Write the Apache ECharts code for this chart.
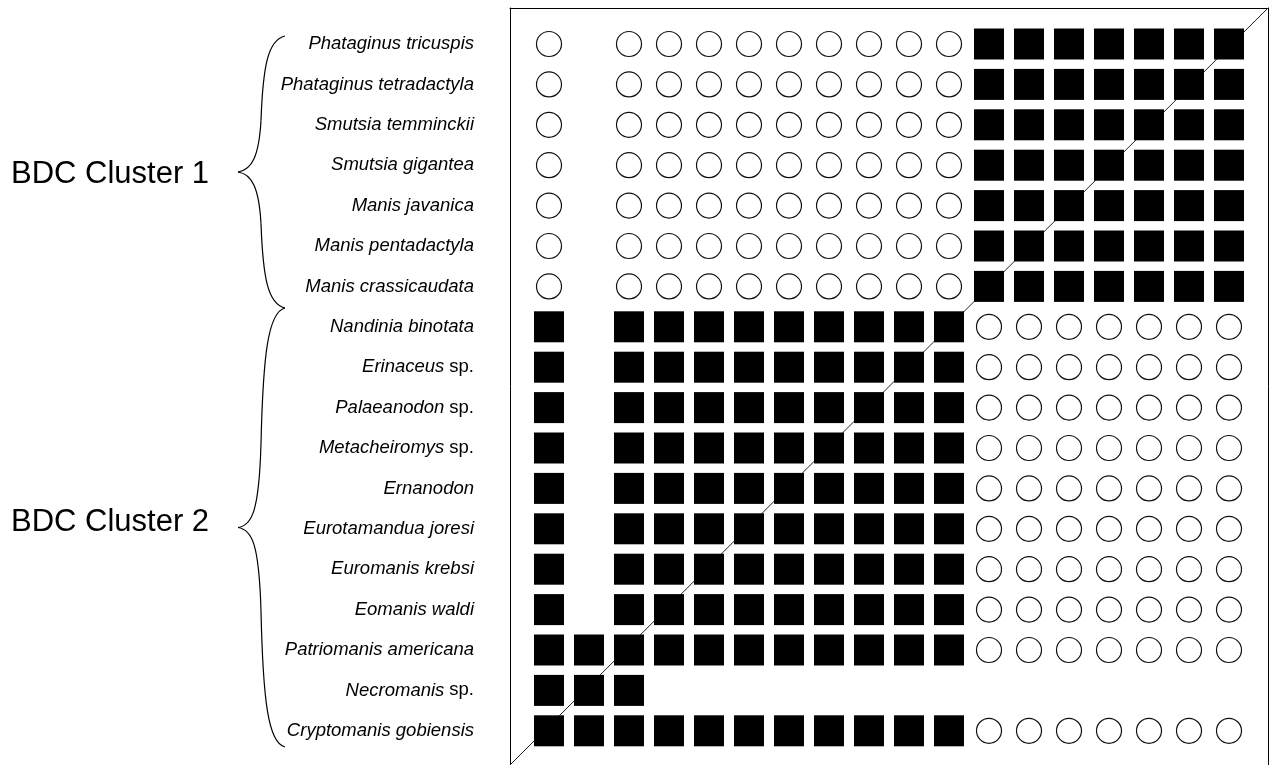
<!DOCTYPE html>
<html>
<head>
<meta charset="utf-8">
<script src="https://cdn.jsdelivr.net/npm/echarts@6/dist/echarts.min.js"></script>
<style>
  html, body { margin: 0; padding: 0; background: #fff; }
  #main { width: 1277px; height: 765px; }
</style>
</head>
<body>
<div id="main"></div>
<script>
// taxa, top to bottom
const species = [
  'Phataginus tricuspis', 'Phataginus tetradactyla', 'Smutsia temminckii',
  'Smutsia gigantea', 'Manis javanica', 'Manis pentadactyla',
  'Manis crassicaudata', 'Nandinia binotata', 'Erinaceus sp.',
  'Palaeanodon sp.', 'Metacheiromys sp.', 'Ernanodon',
  'Eurotamandua joresi', 'Euromanis krebsi', 'Eomanis waldi',
  'Patriomanis americana', 'Necromanis sp.', 'Cryptomanis gobiensis'
]
// 18 unlabeled columns
const columns = ['1', '2', '3', '4', '5', '6', '7', '8', '9', '10', '11', '12', '13', '14', '15', '16', '17', '18']

// 0 = blank, 1 = open circle, 2 = filled square
const cluster1Row = [1, 0, 1, 1, 1, 1, 1, 1, 1, 1, 1, 2, 2, 2, 2, 2, 2, 2]
const cluster2Row = [2, 0, 2, 2, 2, 2, 2, 2, 2, 2, 2, 1, 1, 1, 1, 1, 1, 1]
const fullRow     = [2, 2, 2, 2, 2, 2, 2, 2, 2, 2, 2, 1, 1, 1, 1, 1, 1, 1]
const necroRow    = [2, 2, 2, 0, 0, 0, 0, 0, 0, 0, 0, 0, 0, 0, 0, 0, 0, 0]
const matrix = [
  cluster1Row, cluster1Row, cluster1Row, cluster1Row, cluster1Row, cluster1Row, cluster1Row,
  cluster2Row, cluster2Row, cluster2Row, cluster2Row, cluster2Row, cluster2Row, cluster2Row, cluster2Row,
  fullRow, necroRow, fullRow
]

const clusterLabels = ['BDC Cluster 1', 'BDC Cluster 2']

const circles = []
const squares = []
matrix.forEach((row, i) => {
  row.forEach((v, j) => {
    if (v === 1) circles.push([j, i])
    if (v === 2) squares.push([j, i])
  })
})

const font = 'Arial, "Liberation Sans", sans-serif'

// curly brace made of 4 cubic curves
function brace(x0, yTop, yBot, xTip, xMid) {
  const yc = (yTop + yBot) / 2
  const a = (yc - yTop) * 0.62
  const segs = [
    [x0, yTop, xMid, yTop + a, x0 - 17, yTop + 4, xMid + 2, yTop + a * 0.35],
    [xMid, yTop + a, xTip, yc, xMid - 2, yc - 16, xTip + 14, yc - 2],
    [xTip, yc, xMid, yBot - a, xTip + 14, yc + 2, xMid - 2, yc + 16],
    [xMid, yBot - a, x0, yBot, xMid + 2, yBot - a * 0.35, x0 - 17, yBot - 4]
  ]
  return segs.map(s => ({
    type: 'bezierCurve',
    shape: { x1: s[0], y1: s[1], x2: s[2], y2: s[3], cpx1: s[4], cpy1: s[5], cpx2: s[6], cpy2: s[7] },
    style: { stroke: '#000', lineWidth: 1.2, fill: null }
  }))
}

// frame edge: only the line, nothing else
const edge = { show: true, onZero: false, lineStyle: { color: '#000', width: 1 } }
const hidden = { axisTick: { show: false }, axisLabel: { show: false }, splitLine: { show: false } }

const chart = echarts.init(document.getElementById('main'))
const option = {
  animation: false,
  backgroundColor: '#fff',
  grid: [
    { left: 529, top: 23.8, width: 720, height: 727.2 },
    { left: 510, top: 8, width: 758, height: 759 }
  ],
  xAxis: [
    { type: 'category', gridIndex: 0, data: columns, show: false },
    { type: 'value', gridIndex: 1, min: 0, max: 1, position: 'top', axisLine: edge, ...hidden }
  ],
  yAxis: [
    {
      type: 'category', gridIndex: 0, data: species, inverse: true,
      axisLine: { show: false }, axisTick: { show: false }, splitLine: { show: false },
      axisLabel: {
        margin: 55,
        interval: 0,
        color: '#000',
        fontSize: 18,
        fontStyle: 'italic',
        fontFamily: font,
        formatter: name => {
          if (name.endsWith(' sp.')) return '{i|' + name.slice(0, -4) + '} {n|sp.}'
          return '{i|' + name + '}'
        },
        rich: {
          i: { fontSize: 18.5, fontStyle: 'italic', fontFamily: font, color: '#000' },
          n: { fontSize: 18.5, fontStyle: 'normal', fontFamily: font, color: '#000' }
        }
      }
    },
    { type: 'value', gridIndex: 1, min: 0, max: 1, position: 'left', axisLine: edge, ...hidden },
    { type: 'value', gridIndex: 1, min: 0, max: 1, position: 'right', axisLine: edge, ...hidden }
  ],
  graphic: [
    ...brace(285, 36, 308, 238, 261),
    ...brace(285, 308, 747, 238, 261),
    {
      type: 'text', x: 11, y: 174,
      style: { text: clusterLabels[0], font: '31px ' + font, fill: '#000', textAlign: 'left', textVerticalAlign: 'middle' }
    },
    {
      type: 'text', x: 11, y: 522,
      style: { text: clusterLabels[1], font: '31px ' + font, fill: '#000', textAlign: 'left', textVerticalAlign: 'middle' }
    }
  ],
  series: [
    {
      type: 'line', xAxisIndex: 1, yAxisIndex: 1,
      data: [[0, 0], [1, 1]],
      symbol: 'none', z: 1,
      lineStyle: { color: '#222', width: 1 }
    },
    {
      type: 'scatter', xAxisIndex: 0, yAxisIndex: 0,
      data: circles, symbol: 'circle', symbolSize: 25, z: 3,
      itemStyle: { color: '#fff', borderColor: '#111', borderWidth: 1.2, opacity: 1 }
    },
    {
      type: 'scatter', xAxisIndex: 0, yAxisIndex: 0,
      data: squares, symbol: 'rect', symbolSize: [30, 31], z: 3,
      itemStyle: { color: '#000', opacity: 1 }
    }
  ]
}
option && chart.setOption(option)
</script>
</body>
</html>
